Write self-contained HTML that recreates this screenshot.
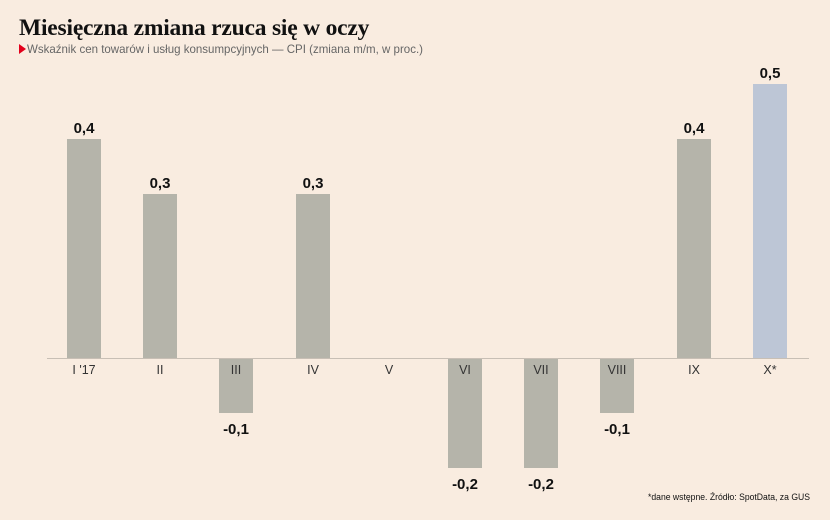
<!DOCTYPE html>
<html><head><meta charset="utf-8"><style>
body{margin:0;background:#f9ece0;}
svg{display:block;font-family:"Liberation Sans",sans-serif;}
</style></head><body>
<svg width="830" height="520" viewBox="0 0 830 520">
<rect width="830" height="520" fill="#f9ece0"/>
<text x="19" y="35" font-family="Liberation Serif,serif" font-weight="bold" font-size="23.5" fill="#111" letter-spacing="-0.2">Miesięczna zmiana rzuca się w oczy</text>
<path d="M19,44 L26,49 L19,54 Z" fill="#e3001b"/>
<text x="27" y="53" font-size="11.6" fill="#666" textLength="396" lengthAdjust="spacingAndGlyphs">Wskaźnik cen towarów i usług konsumpcyjnych — CPI (zmiana m/m, w proc.)</text>
<g fill="#b5b4aa">
<rect x="67" y="139" width="34" height="219"/>
<rect x="143" y="194" width="34" height="164"/>
<rect x="219" y="358" width="34" height="55"/>
<rect x="296" y="194" width="34" height="164"/>
<rect x="448" y="358" width="34" height="110"/>
<rect x="524" y="358" width="34" height="110"/>
<rect x="600" y="358" width="34" height="55"/>
<rect x="677" y="139" width="34" height="219"/>
</g>
<rect x="753" y="84" width="34" height="274" fill="#bdc6d6"/>
<line x1="47" y1="358.5" x2="809" y2="358.5" stroke="#c8bfb5" stroke-width="1"/>
<g font-size="12.5" fill="#333" text-anchor="middle">
<text x="84" y="374">I '17</text><text x="160" y="374">II</text><text x="236" y="374">III</text><text x="313" y="374">IV</text><text x="389" y="374">V</text><text x="465" y="374">VI</text><text x="541" y="374">VII</text><text x="617" y="374">VIII</text><text x="694" y="374">IX</text><text x="770" y="374">X*</text>
</g>
<g font-size="15" font-weight="bold" fill="#111" text-anchor="middle">
<text x="84" y="133">0,4</text><text x="160" y="188">0,3</text><text x="313" y="188">0,3</text><text x="694" y="133">0,4</text><text x="770" y="78">0,5</text>
<text x="236" y="434">-0,1</text><text x="465" y="489">-0,2</text><text x="541" y="489">-0,2</text><text x="617" y="434">-0,1</text>
</g>
<text x="810" y="500" font-size="9" fill="#111" text-anchor="end" textLength="162" lengthAdjust="spacingAndGlyphs">*dane wstępne. Źródło: SpotData, za GUS</text>
</svg>
</body></html>
